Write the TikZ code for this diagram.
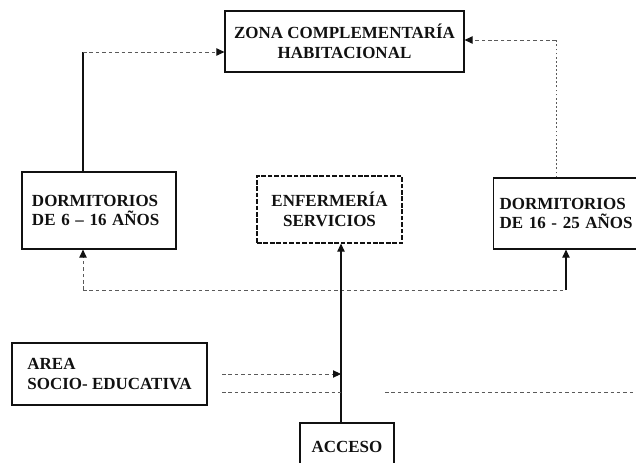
\documentclass[tikz,border=0pt]{standalone}
\usepackage{fontspec}
\setmainfont{Liberation Serif}
\usetikzlibrary{arrows.meta,positioning}
\definecolor{inkdark}{RGB}{17,17,17}
\definecolor{inkfaint}{RGB}{90,90,90}
\tikzset{
  planbox/.style={draw=inkdark,line width=1pt,text=inkdark,inner sep=0pt,
    font=\fontsize{14.5}{17}\selectfont\bfseries},
  leftbox/.style={planbox,align=left},
  midbox/.style={planbox,align=center},
  solidlink/.style={draw=inkdark,line width=0.9pt},
  faintlink/.style={draw=inkfaint,line width=0.8pt,dash pattern=on 3pt off 2.5pt},
  headarrow/.style={-{Triangle[length=2.4mm,width=2.2mm,color=inkdark]}}
}

\begin{document}
\begin{tikzpicture}[x=0.3mm,y=-0.3mm]
\useasboundingbox (0,0) rectangle (636,463);
% boxes
\node[midbox,minimum width=71.7mm,minimum height=18.3mm](zona)
  at(344.5,41.5){ZONA COMPLEMENTARÍA\\HABITACIONAL};
\node[leftbox,text width=40.2mm,inner xsep=3mm,minimum height=23.1mm](dormA)
  at(99,210.5){DORMITORIOS\\DE 6 -- 16 AÑOS};
\node[midbox,dash pattern=on 4pt off 1.5pt,minimum width=43.5mm,minimum height=20.1mm](enf)
  at(329.5,209.5){ENFERMERÍA\\SERVICIOS};
\node[leftbox,anchor=west,text width=44mm,inner xsep=1.8mm,minimum height=21.3mm](dormB)
  at(493,213.5){DORMITORIOS\\DE 16 - 25 AÑOS};
\node[leftbox,minimum width=58.5mm,minimum height=18.6mm](area)
  at(109.5,374){AREA\\SOCIO- EDUCATIVA};
\node[midbox,minimum width=28.2mm,minimum height=14.1mm](acceso)
  at(347,446.5){ACCESO};
% corners of the links
\coordinate(topL) at(83,52);
\coordinate(topR) at(556,40);
\coordinate(busL) at(83,290);
\coordinate(busR) at(566,290);
\coordinate(spine) at(341,290);
\coordinate(lowA) at(222,392);
\coordinate(lowB) at(385,392);
\coordinate(lowC) at(636,392);
% links
\draw[solidlink](topL |- dormA.north)--(topL);
\draw[faintlink,headarrow](topL)--(topL -| zona.west);
\draw[faintlink,dash pattern=on 1.5pt off 2pt](topR |- dormB.north)--(topR);
\draw[faintlink,headarrow](topR)--(topR -| zona.east);
\draw[faintlink](busL)--(busR);
\draw[faintlink,headarrow](busL)--(busL |- dormA.south);
\draw[solidlink,headarrow](busR)--(busR |- dormB.south);
\draw[solidlink,headarrow](spine |- acceso.north)--(spine |- enf.south);
\draw[faintlink,headarrow](lowA |- area.east)--(spine |- area.east);
\draw[faintlink](lowA)--(lowA -| spine);
\draw[faintlink](lowB)--(lowC);
\end{tikzpicture}
\end{document}
